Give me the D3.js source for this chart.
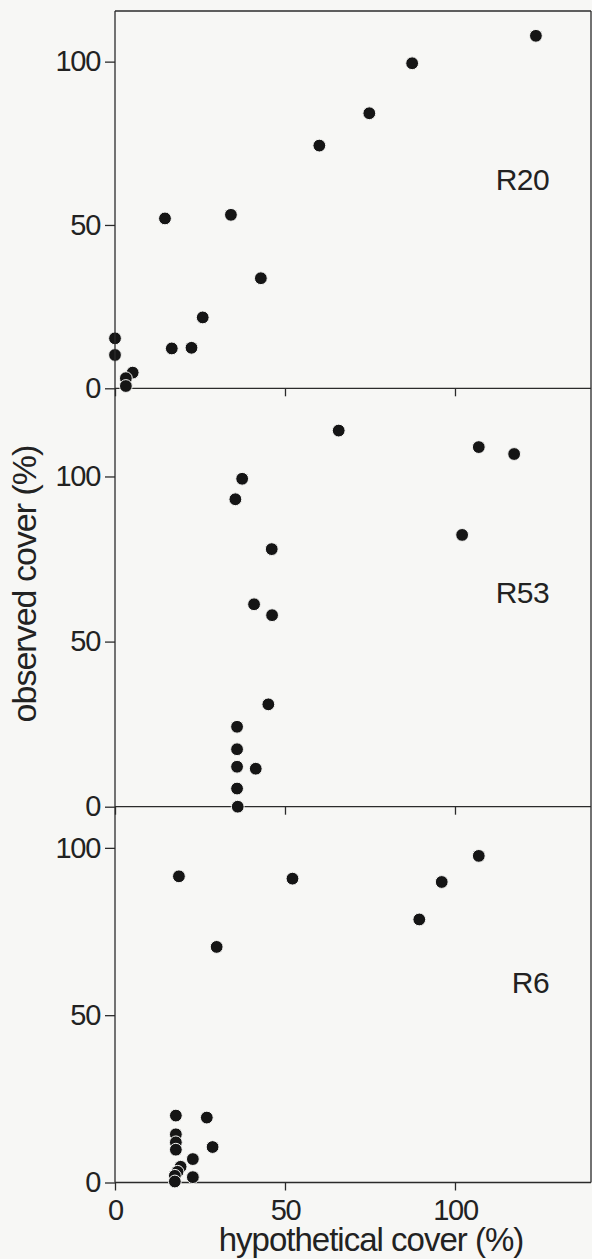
<!DOCTYPE html>
<html>
<head>
<meta charset="utf-8">
<script src="https://cdn.jsdelivr.net/npm/d3@7"></script>
<style>
  body { margin: 0; background: #f7f7f5; }
  svg { display: block; }
  text { font-family: "Liberation Sans", Arial, sans-serif; fill: #222; }
</style>
</head>
<body>
<div id="chart"></div>
<script>
// ********** observed vs hypothetical cover, three stands **********
var width = 592, height = 1259;

// R20
var r20X = [0, 0, 5.2, 3.2, 3.2, 14.7, 34.1, 42.9, 25.8, 16.7, 22.5, 60.1, 74.8, 87.4, 123.8];
var r20Y = [15.3, 10.2, 4.8, 3.1, 0.7, 52.0, 53.1, 33.7, 21.7, 12.2, 12.4, 74.3, 84.2, 99.5, 107.9];
// R53
var r53X = [37.4, 35.4, 46.1, 40.9, 46.2, 45.1, 35.9, 35.9, 35.9, 41.4, 35.9, 36.1, 65.8, 107.0, 117.4, 102.1];
var r53Y = [99.3, 93.1, 78.0, 61.3, 58.0, 31.0, 24.2, 17.4, 12.1, 11.5, 5.5, 0, 113.9, 108.9, 106.8, 82.3];
// R6
var r6X = [18.8, 29.9, 52.2, 96.1, 107.0, 89.5, 17.9, 27.0, 17.9, 17.9, 17.9, 28.7, 22.9, 19.3, 18.4, 17.6, 22.9, 17.6];
var r6Y = [91.5, 70.4, 90.8, 89.8, 97.6, 78.6, 20.0, 19.4, 14.4, 12.0, 9.8, 10.6, 7.0, 4.7, 3.2, 2.0, 1.6, 0.3];

var panelNames = ["R20", "R53", "R6"];
var panelYMax = [115.5, 126.7, 112.3];
var yTicks = [0, 50, 100];
var xTicks = [0, 50, 100];
var xMax = 140.3;

var panels = [
  {name: panelNames[0], yMax: panelYMax[0], xs: r20X, ys: r20Y, top: 11, bottom: 388.3, labelY: 190},
  {name: panelNames[1], yMax: panelYMax[1], xs: r53X, ys: r53Y, top: 388.3, bottom: 806.7, labelY: 603},
  {name: panelNames[2], yMax: panelYMax[2], xs: r6X, ys: r6Y, top: 806.7, bottom: 1182.5, labelY: 993}
];

var left = 115, right = 591;
var lineColor = "#2b2b2b";

var svg = d3.select("#chart").append("svg")
    .attr("width", width)
    .attr("height", height);

var x = d3.scaleLinear().domain([0, xMax]).range([left, width]);

panels.forEach(function(p, i) {
  var y = d3.scaleLinear().domain([0, p.yMax]).range([p.bottom, p.top]);
  var g = svg.append("g").attr("class", "panel");

  // y axis ticks + labels
  var ya = g.append("g")
      .attr("transform", "translate(" + left + ",0)")
      .call(d3.axisLeft(y).tickValues(yTicks).tickSize(10).tickPadding(5));
  ya.select(".domain").remove();
  ya.selectAll("line").attr("stroke", lineColor).attr("stroke-width", 1.3);
  ya.selectAll("text")
      .style("font-size", "29px")
      .style("letter-spacing", "-1.3px")
      .attr("fill", "#222");

  // x ticks (labels only on the bottom panel)
  var xa = g.append("g")
      .attr("transform", "translate(0," + p.bottom + ")")
      .call(d3.axisBottom(x).tickValues(xTicks).tickSize(8).tickPadding(9));
  xa.select(".domain").remove();
  xa.selectAll("line").attr("stroke", lineColor).attr("stroke-width", 1.3);
  if (i < panels.length - 1) {
    xa.selectAll("text").remove();
  } else {
    xa.selectAll("text")
        .style("font-size", "29px")
        .style("letter-spacing", "-1.3px")
        .attr("fill", "#222");
  }

  // baseline of the panel
  g.append("line")
      .attr("x1", left).attr("x2", right)
      .attr("y1", y(0)).attr("y2", y(0))
      .attr("stroke", lineColor).attr("stroke-width", 1.3);

  // points
  var pts = d3.range(p.xs.length).map(function(k) { return [p.xs[k], p.ys[k]]; });
  g.selectAll("circle")
      .data(pts)
    .enter().append("circle")
      .attr("cx", function(d) { return x(d[0]); })
      .attr("cy", function(d) { return y(d[1]); })
      .attr("r", 6.4)
      .attr("fill", "#151515")
      .attr("stroke", "#f7f7f5")
      .attr("stroke-width", 1);

  // panel name
  g.append("text")
      .attr("x", 549)
      .attr("y", p.labelY)
      .attr("text-anchor", "end")
      .style("font-size", "30px")
      .style("letter-spacing", "-0.6px")
      .text(p.name);
});

// frame: left axis, top and right border
svg.append("line")
    .attr("x1", left).attr("x2", left)
    .attr("y1", 11).attr("y2", panels[2].bottom)
    .attr("stroke", lineColor).attr("stroke-width", 1.3);
svg.append("line")
    .attr("x1", left).attr("x2", right)
    .attr("y1", 11).attr("y2", 11)
    .attr("stroke", lineColor).attr("stroke-width", 1.3);
svg.append("line")
    .attr("x1", right).attr("x2", right)
    .attr("y1", 11).attr("y2", panels[2].bottom)
    .attr("stroke", lineColor).attr("stroke-width", 1.3);

// axis titles
svg.append("text")
    .attr("transform", "translate(36,584) rotate(-90)")
    .attr("text-anchor", "middle")
    .style("font-size", "34px")
    .style("letter-spacing", "-1px")
    .text("observed cover (%)");

svg.append("text")
    .attr("x", 371)
    .attr("y", 1251)
    .attr("text-anchor", "middle")
    .style("font-size", "33px")
    .style("letter-spacing", "-1px")
    .text("hypothetical cover (%)");
</script>
</body>
</html>
